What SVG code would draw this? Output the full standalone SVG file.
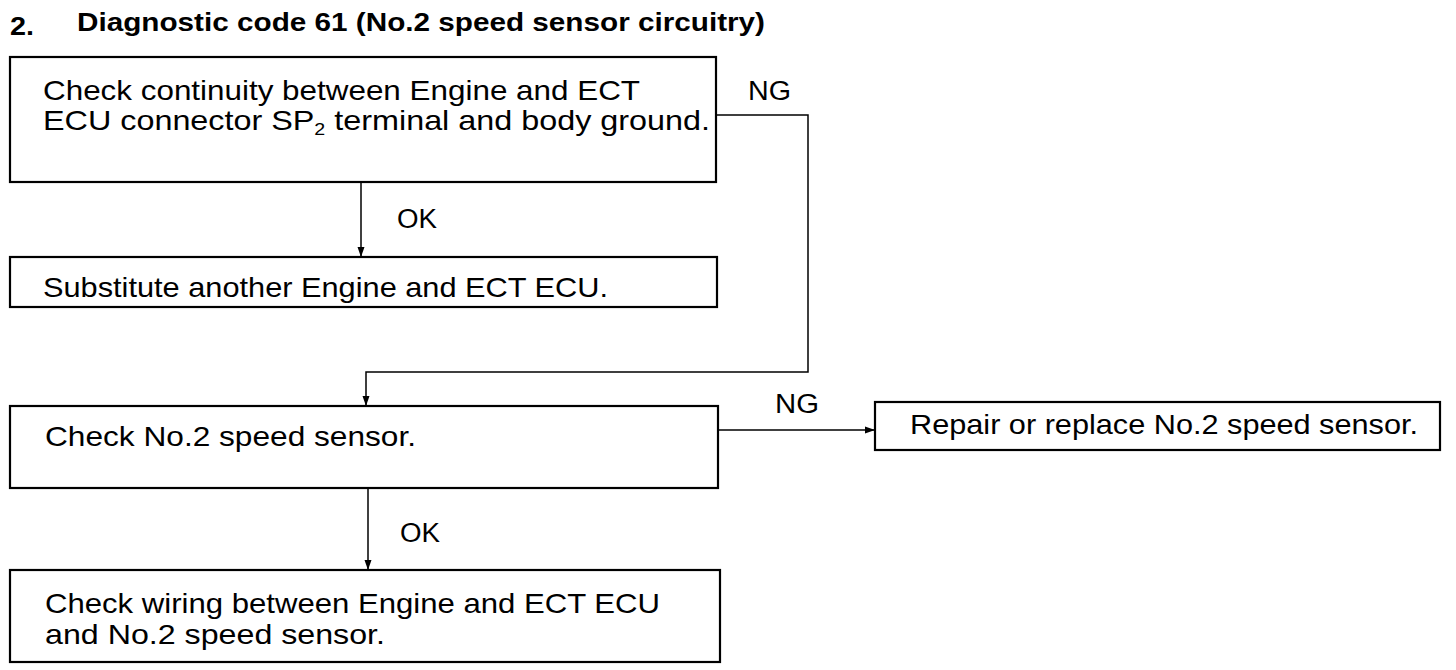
<svg xmlns="http://www.w3.org/2000/svg" width="1456" height="670" viewBox="0 0 1456 670">
<defs>
<marker id="arr" viewBox="0 0 10 10" refX="10" refY="5" markerWidth="10" markerHeight="10" markerUnits="userSpaceOnUse" orient="auto">
<path d="M0,1.5 L10,5 L0,8.5 z" fill="#000"/>
</marker>
<style>
.box{fill:#fff;stroke:#000;stroke-width:2.2}
.t{font-family:"Liberation Sans",Arial,sans-serif;font-size:28px;fill:#000}
.title{font-family:"Liberation Sans",Arial,sans-serif;font-size:25px;font-weight:bold;fill:#000}
.lbl{font-family:"Liberation Sans",Arial,sans-serif;font-size:27px;fill:#000}
.c{fill:none;stroke:#000;stroke-width:1.5}
</style>
</defs>
<rect width="1456" height="670" fill="#fff"/>
<g id="title">
<text class="title" x="10" y="35" textLength="24" lengthAdjust="spacingAndGlyphs">2.</text>
<text class="title" x="77" y="31" textLength="688" lengthAdjust="spacingAndGlyphs">Diagnostic code 61 (No.2 speed sensor circuitry)</text>
</g>
<g id="connectors">
<path class="c" d="M361,182 L361,257" marker-end="url(#arr)"/>
<path class="c" d="M716,115 L808,115 L808,372 L366,372 L366,406" marker-end="url(#arr)"/>
<path class="c" d="M718,430 L875,430" marker-end="url(#arr)"/>
<path class="c" d="M368,488 L368,570" marker-end="url(#arr)"/>
<text class="lbl" x="748" y="100" textLength="43" lengthAdjust="spacingAndGlyphs">NG</text>
<text class="lbl" x="397" y="228" textLength="40" lengthAdjust="spacingAndGlyphs">OK</text>
<text class="lbl" x="775" y="413" textLength="44" lengthAdjust="spacingAndGlyphs">NG</text>
<text class="lbl" x="400" y="542" textLength="40" lengthAdjust="spacingAndGlyphs">OK</text>
</g>
<g id="node1">
<rect class="box" x="10" y="57" width="706" height="125"/>
<text class="t" x="43" y="100" textLength="597" lengthAdjust="spacingAndGlyphs">Check continuity between Engine and ECT</text>
<text class="t" x="43" y="130" textLength="667" lengthAdjust="spacingAndGlyphs">ECU connector SP<tspan font-size="17" dy="5">2</tspan><tspan dy="-5"> terminal and body ground.</tspan></text>
</g>
<g id="node2">
<rect class="box" x="10" y="257" width="707" height="50"/>
<text class="t" x="43" y="297" textLength="565" lengthAdjust="spacingAndGlyphs">Substitute another Engine and ECT ECU.</text>
</g>
<g id="node3">
<rect class="box" x="10" y="406" width="708" height="82"/>
<text class="t" x="45" y="446" textLength="371" lengthAdjust="spacingAndGlyphs">Check No.2 speed sensor.</text>
</g>
<g id="node4">
<rect class="box" x="875" y="402" width="565" height="48"/>
<text class="t" x="910" y="434" textLength="508" lengthAdjust="spacingAndGlyphs">Repair or replace No.2 speed sensor.</text>
</g>
<g id="node5">
<rect class="box" x="10" y="570" width="710" height="92"/>
<text class="t" x="45" y="613" textLength="615" lengthAdjust="spacingAndGlyphs">Check wiring between Engine and ECT ECU</text>
<text class="t" x="45" y="644" textLength="340" lengthAdjust="spacingAndGlyphs">and No.2 speed sensor.</text>
</g>
</svg>
